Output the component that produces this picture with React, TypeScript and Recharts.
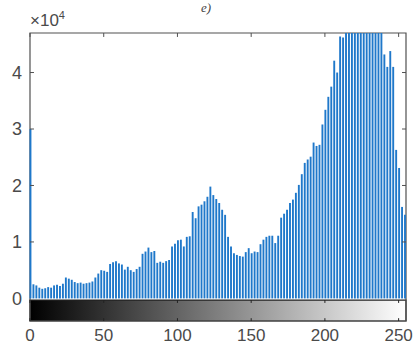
import React from 'react'
import { ComposedChart, Bar, XAxis, YAxis, ReferenceArea, ReferenceLine } from 'recharts'

// gray level bins (every other level is populated)
const grayLevels = [
  0, 2, 4, 6, 8, 10, 12, 14, 16, 18, 20, 22, 24, 26, 28, 30,
  32, 34, 36, 38, 40, 42, 44, 46, 48, 50, 52, 54, 56, 58, 60, 62,
  64, 66, 68, 70, 72, 74, 76, 78, 80, 82, 84, 86, 88, 90, 92, 94,
  96, 98, 100, 102, 104, 106, 108, 110, 112, 114, 116, 118, 120, 122, 124, 126,
  128, 130, 132, 134, 136, 138, 140, 142, 144, 146, 148, 150, 152, 154, 156, 158,
  160, 162, 164, 166, 168, 170, 172, 174, 176, 178, 180, 182, 184, 186, 188, 190,
  192, 194, 196, 198, 200, 202, 204, 206, 208, 210, 212, 214, 216, 218, 220, 222,
  224, 226, 228, 230, 232, 234, 236, 238, 240, 242, 244, 246, 248, 250, 252, 254,
]

const pixelCounts = [
  30000, 2500, 2300, 1900, 1700, 1800, 2000, 1900, 2300, 2400, 2200, 2600, 3700, 3500, 3300, 2900,
  2700, 2800, 2600, 2700, 2800, 3000, 3700, 4400, 5000, 4900, 4700, 6100, 6400, 6600, 6200, 6000,
  5100, 5600, 5000, 4700, 5200, 5600, 7900, 8300, 9000, 8200, 8400, 6300, 6500, 6300, 6600, 6800,
  9200, 9700, 10300, 10400, 9200, 10900, 11000, 15300, 14200, 16300, 16600, 17200, 18000, 19800, 18300, 17600,
  16900, 15700, 14800, 10900, 9200, 8000, 7700, 7500, 7400, 8200, 8900, 8000, 8300, 8200, 9600, 10400,
  10900, 11100, 11100, 9800, 11100, 14300, 15000, 15700, 16900, 17500, 18700, 20100, 22000, 24000, 24600, 25100,
  27600, 27000, 27200, 30800, 33400, 35700, 37500, 42100, 40000, 46400, 46200, 55000, 60000, 52000, 58000, 62000,
  54000, 57000, 61000, 53000, 59000, 56000, 50000, 48500, 43200, 41000, 43800, 41000, 26300, 23100, 16200, 14800,
]

const xTicks = [0, 50, 100, 150, 200, 250]
const yTicks = [0, 10000, 20000, 30000, 40000]

const data = grayLevels.map((level, i) => ({ level, count: pixelCounts[i] }))

const Y_MAX = 47000
const Y_MIN = -4000
const BAR_TOP = -300
const labelColor = '#4a4a4a'
const frameColor = '#505050'
const font = '"Liberation Sans", Arial, sans-serif'

export default function App() {
  return (
    <div style={{ position: 'absolute', left: 0, top: 0, width: 413, height: 345, background: '#fff', overflow: 'hidden', fontFamily: font }}>
      <div style={{ position: 'absolute', left: 201, top: 1, fontSize: 13, fontStyle: 'italic', fontFamily: '"Liberation Serif", serif', color: '#444', lineHeight: 1 }}>
        e)
      </div>
      <div style={{ position: 'absolute', left: 30, top: 10, fontSize: 17, color: labelColor, lineHeight: 1 }}>
        ×10<sup style={{ fontSize: 11, verticalAlign: 7 }}>4</sup>
      </div>
      <ComposedChart
        width={413}
        height={345}
        data={data}
        margin={{ top: 33, right: 7, bottom: 0, left: 0 }}
      >
        <defs>
          <linearGradient id="grayRamp" x1="0" y1="0" x2="1" y2="0">
            <stop offset="0%" stopColor="#000000" />
            <stop offset="100%" stopColor="#ffffff" />
          </linearGradient>
        </defs>
        <XAxis
          dataKey="level"
          type="number"
          domain={[0, 255]}
          ticks={xTicks}
          axisLine={false}
          tickLine={false}
          tickSize={0}
          tickMargin={8}
          height={24}
          tick={{ fill: labelColor, fontSize: 17, fontFamily: font }}
        />
        <YAxis
          type="number"
          domain={[Y_MIN, Y_MAX]}
          allowDataOverflow
          ticks={yTicks}
          tickFormatter={(v: number) => String(v / 10000)}
          axisLine={false}
          tickLine={false}
          tickSize={0}
          tickMargin={8}
          width={30}
          tick={{ fill: labelColor, fontSize: 18, fontFamily: font }}
        />
        <Bar dataKey="count" fill="#1f78ca" barSize={1.9} isAnimationActive={false} />
        <ReferenceArea
          x1={0}
          x2={255}
          y1={Y_MIN}
          y2={BAR_TOP}
          fill="url(#grayRamp)"
          fillOpacity={1}
          stroke="#222"
          strokeWidth={1.2}
        />
        {xTicks.map(t => (
          <ReferenceLine key={'top' + t} segment={[{ x: t, y: Y_MAX }, { x: t, y: Y_MAX - 700 }]} stroke={frameColor} />
        ))}
        {xTicks.map(t => (
          <ReferenceLine key={'cb' + t} segment={[{ x: t, y: Y_MIN }, { x: t, y: Y_MIN + 500 }]} stroke="#222" />
        ))}
        {xTicks.map(t => (
          <ReferenceLine key={'cbt' + t} segment={[{ x: t, y: BAR_TOP }, { x: t, y: BAR_TOP - 500 }]} stroke="#222" />
        ))}
        {yTicks.slice(1).map(t => (
          <ReferenceLine key={'l' + t} segment={[{ x: 0, y: t }, { x: 2.7, y: t }]} stroke={frameColor} />
        ))}
        {yTicks.slice(1).map(t => (
          <ReferenceLine key={'r' + t} segment={[{ x: 255, y: t }, { x: 252.3, y: t }]} stroke={frameColor} />
        ))}
        <ReferenceArea x1={0} x2={255} y1={Y_MIN} y2={Y_MAX} fill="none" stroke={frameColor} strokeWidth={1.2} />
      </ComposedChart>
    </div>
  )
}
